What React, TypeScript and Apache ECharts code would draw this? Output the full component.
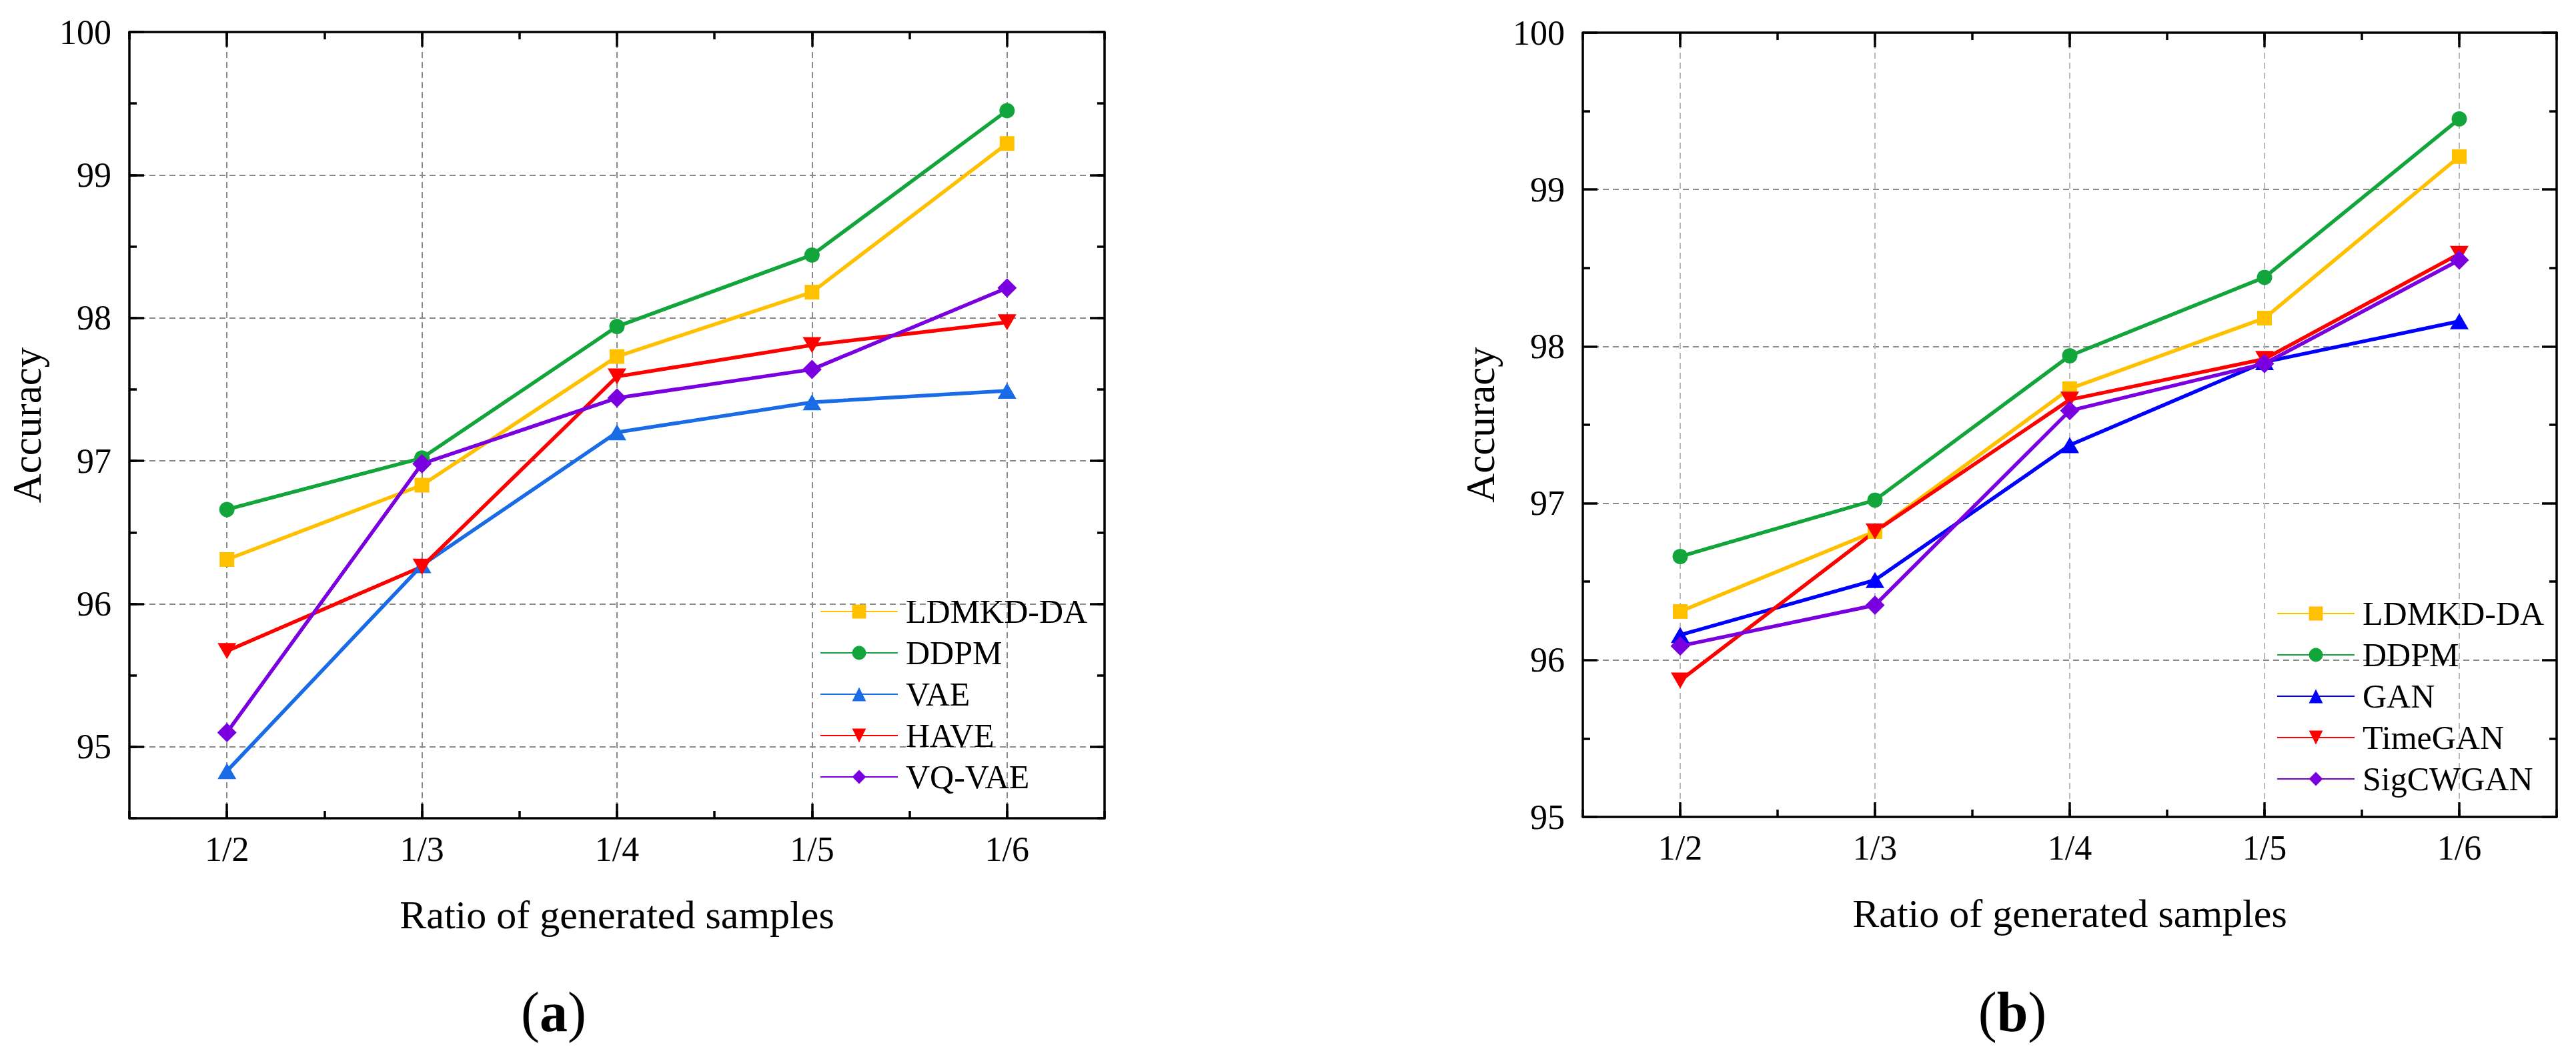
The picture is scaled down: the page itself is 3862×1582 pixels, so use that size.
import React, { useEffect, useRef } from "react";
import * as echarts from "echarts";

const categories = ["1/2", "1/3", "1/4", "1/5", "1/6"];

// Panel (a)
const ldmkdA = [96.31, 96.83, 97.73, 98.18, 99.22];
const ddpmA = [96.66, 97.02, 97.94, 98.44, 99.45];
const vaeA = [94.83, 96.27, 97.2, 97.41, 97.49];
const haveA = [95.67, 96.26, 97.59, 97.81, 97.97];
const vqvaeA = [95.1, 96.98, 97.44, 97.64, 98.21];

// Panel (b)
const ldmkdB = [96.31, 96.82, 97.73, 98.18, 99.21];
const ddpmB = [96.66, 97.02, 97.94, 98.44, 99.45];
const ganB = [96.16, 96.51, 97.37, 97.9, 98.16];
const timeganB = [95.87, 96.82, 97.66, 97.92, 98.59];
const sigcwganB = [96.09, 96.35, 97.59, 97.89, 98.55];

const yTicksA = [95, 96, 97, 98, 99, 100];
const yTicksB = [95, 96, 97, 98, 99, 100];
const xTickValues = [1, 2, 3, 4, 5];

const namesA = ["LDMKD-DA", "DDPM", "VAE", "HAVE", "VQ-VAE"];
const namesB = ["LDMKD-DA", "DDPM", "GAN", "TimeGAN", "SigCWGAN"];

const FONT = '"Liberation Serif", "Times New Roman", serif';
const LINE = { color: "#000", width: 3.5 };
const TRANSPARENT = "rgba(0,0,0,0)";

const C_LD = "#FFC000";
const C_DD = "#12A53B";
const C_VAE = "#1A6CE6";
const C_GAN = "#0000FF";
const C_RED = "#FF0000";
const C_PUR = "#7A00DF";

function xMinor(gridIndex: number, position: string, split: string | null, named: boolean) {
  return {
    type: "value",
    gridIndex,
    position,
    min: 0.5,
    max: 5.5,
    interval: 0.5,
    axisLine: { show: true, onZero: false, lineStyle: LINE },
    axisTick: { show: true, inside: true, length: 11, lineStyle: LINE },
    axisLabel: { show: false },
    splitLine: split
      ? { show: true, lineStyle: { color: [TRANSPARENT, split], type: [9, 6], width: 2 } }
      : { show: false },
    name: named ? "Ratio of generated samples" : "",
    nameLocation: "middle",
    nameGap: 115,
    nameTextStyle: { fontFamily: FONT, fontSize: 60, lineHeight: 60, color: "#000" },
  };
}

function xMajor(gridIndex: number, position: string, labels: boolean) {
  return {
    type: "value",
    gridIndex,
    position,
    min: 0.5,
    max: 5.5,
    axisLine: { show: false, onZero: false },
    axisTick: { show: true, inside: true, length: 22, lineStyle: LINE, customValues: xTickValues },
    axisLabel: {
      show: labels,
      customValues: xTickValues,
      formatter: (v: number) => {
        const i = Math.round(v) - 1;
        return Math.abs(v - Math.round(v)) < 1e-6 && categories[i] ? categories[i] : "";
      },
      margin: 20,
      fontFamily: FONT,
      fontSize: 52,
      color: "#000",
    },
    splitLine: { show: false },
  };
}

function yNameProps(named: boolean) {
  return {
    name: named ? "Accuracy" : "",
    nameLocation: "middle",
    nameGap: 124,
    nameTextStyle: { fontFamily: FONT, fontSize: 61, lineHeight: 60, color: "#000" },
  };
}

function yLabel(show: boolean, values: number[]) {
  return {
    show,
    customValues: values,
    formatter: (v: number) => (Math.abs(v - Math.round(v)) < 1e-6 ? String(Math.round(v)) : ""),
    margin: 27,
    fontFamily: FONT,
    fontSize: 52,
    color: "#000",
  };
}

function series(
  name: string,
  values: number[],
  color: string,
  symbol: string,
  size: number | number[],
  rotate: number,
  xIdx: number,
  yIdx: number
) {
  return {
    type: "line",
    name,
    xAxisIndex: xIdx,
    yAxisIndex: yIdx,
    data: values.map((v, i) => [i + 1, v]),
    symbol,
    symbolSize: size,
    symbolRotate: rotate,
    showSymbol: true,
    lineStyle: { width: 5.5, color },
    itemStyle: { color },
    silent: true,
    emphasis: { disabled: true },
  };
}

function legend(data: string[], left: number, top: number) {
  return {
    data,
    left,
    top,
    orient: "vertical",
    padding: 0,
    itemWidth: 116,
    itemHeight: 26,
    itemGap: 12,
    selectedMode: false,
    textStyle: {
      fontFamily: FONT,
      fontSize: 50,
      lineHeight: 50,
      color: "#000",
      padding: [0, 0, 0, 7],
    },
  };
}

function buildOption() {
  return {
    animation: false,
    backgroundColor: "#ffffff",
    grid: [
      { left: 194, top: 48, width: 1462, height: 1179, containLabel: false },
      { left: 2373, top: 49, width: 1460, height: 1176, containLabel: false },
    ],
    xAxis: [
      xMinor(0, "bottom", "#8a8a8a", true),
      xMajor(0, "bottom", true),
      xMinor(0, "top", null, false),
      xMajor(0, "top", false),
      xMinor(1, "bottom", "#b8b8b8", true),
      xMajor(1, "bottom", true),
      xMinor(1, "top", null, false),
      xMajor(1, "top", false),
    ],
    yAxis: [
      {
        type: "value",
        gridIndex: 0,
        position: "left",
        min: 94.5,
        max: 100,
        interval: 0.5,
        axisLine: { show: true, onZero: false, lineStyle: LINE },
        axisTick: { show: true, inside: true, length: 11, lineStyle: LINE },
        axisLabel: { show: false },
        splitLine: { show: true, lineStyle: { color: [TRANSPARENT, "#8a8a8a"], type: [9, 6], width: 2 } },
        ...yNameProps(true),
      },
      {
        type: "value",
        gridIndex: 0,
        position: "left",
        min: 94.5,
        max: 100,
        axisLine: { show: false, onZero: false },
        axisTick: { show: true, inside: true, length: 22, lineStyle: LINE, customValues: yTicksA },
        axisLabel: yLabel(true, yTicksA),
        splitLine: { show: false },
      },
      {
        type: "value",
        gridIndex: 0,
        position: "right",
        min: 94.5,
        max: 100,
        interval: 0.5,
        axisLine: { show: true, onZero: false, lineStyle: LINE },
        axisTick: { show: true, inside: true, length: 11, lineStyle: LINE },
        axisLabel: { show: false },
        splitLine: { show: false },
      },
      {
        type: "value",
        gridIndex: 0,
        position: "right",
        min: 94.5,
        max: 100,
        axisLine: { show: false, onZero: false },
        axisTick: { show: true, inside: true, length: 22, lineStyle: LINE, customValues: yTicksA },
        axisLabel: { show: false },
        splitLine: { show: false },
      },
      {
        type: "value",
        gridIndex: 1,
        position: "left",
        min: 95,
        max: 100,
        interval: 1,
        axisLine: { show: true, onZero: false, lineStyle: LINE },
        axisTick: { show: true, inside: true, length: 22, lineStyle: LINE },
        minorTick: { show: true, splitNumber: 2, length: 11, lineStyle: LINE },
        axisLabel: yLabel(true, yTicksB),
        splitLine: { show: true, lineStyle: { color: "#8a8a8a", type: [9, 6], width: 2 } },
        ...yNameProps(true),
      },
      {
        type: "value",
        gridIndex: 1,
        position: "right",
        min: 95,
        max: 100,
        interval: 1,
        axisLine: { show: true, onZero: false, lineStyle: LINE },
        axisTick: { show: true, inside: true, length: 22, lineStyle: LINE },
        minorTick: { show: true, splitNumber: 2, length: 11, lineStyle: LINE },
        axisLabel: { show: false },
        splitLine: { show: false },
      },
    ],
    legend: [legend(namesA, 1229, 892), legend(namesB, 3413, 895)],
    graphic: [
      {
        type: "text",
        x: 830,
        y: 1517,
        silent: true,
        style: {
          text: "{n|(}{b|a}{n|)}",
          align: "center",
          verticalAlign: "middle",
          rich: {
            n: { fontFamily: FONT, fontSize: 84, fill: "#000" },
            b: { fontFamily: FONT, fontSize: 84, fontWeight: "bold", fill: "#000" },
          },
        },
      },
      {
        type: "text",
        x: 3017,
        y: 1517,
        silent: true,
        style: {
          text: "{n|(}{b|b}{n|)}",
          align: "center",
          verticalAlign: "middle",
          rich: {
            n: { fontFamily: FONT, fontSize: 84, fill: "#000" },
            b: { fontFamily: FONT, fontSize: 84, fontWeight: "bold", fill: "#000" },
          },
        },
      },
    ],
    series: [
      series("LDMKD-DA", ldmkdA, C_LD, "rect", 22, 0, 0, 0),
      series("DDPM", ddpmA, C_DD, "circle", 23, 0, 0, 0),
      series("VAE", vaeA, C_VAE, "triangle", [28, 24], 0, 0, 0),
      series("HAVE", haveA, C_RED, "triangle", [28, 24], 180, 0, 0),
      series("VQ-VAE", vqvaeA, C_PUR, "diamond", 29, 0, 0, 0),
      series("LDMKD-DA", ldmkdB, C_LD, "rect", 22, 0, 4, 4),
      series("DDPM", ddpmB, C_DD, "circle", 23, 0, 4, 4),
      series("GAN", ganB, C_GAN, "triangle", [28, 24], 0, 4, 4),
      series("TimeGAN", timeganB, C_RED, "triangle", [28, 24], 180, 4, 4),
      series("SigCWGAN", sigcwganB, C_PUR, "diamond", 29, 0, 4, 4),
    ],
  };
}

export default function App() {
  const ref = useRef<HTMLDivElement>(null);
  useEffect(() => {
    document.body.style.margin = "0";
    document.body.style.overflow = "hidden";
    const chart = echarts.init(ref.current as HTMLDivElement, null, { renderer: "svg" });
    chart.setOption(buildOption() as any);
    return () => chart.dispose();
  }, []);
  return <div ref={ref} style={{ width: 3862, height: 1582, background: "#fff" }} />;
}
